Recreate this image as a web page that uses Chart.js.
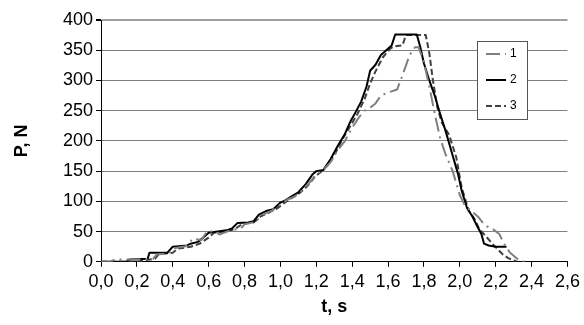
<!DOCTYPE html>
<html>
<head>
<meta charset="utf-8">
<script src="https://cdn.jsdelivr.net/npm/chart.js@4.4.1/dist/chart.umd.min.js"></script>
<style>
  html, body { margin: 0; padding: 0; background: #fff; }
  #wrap { width: 584px; height: 325px; }
</style>
</head>
<body>
<div id="wrap"><canvas id="myChart" width="584" height="325"></canvas></div>
<script>
// series 1 - dash-dot
const t1 = [0, 0.05, 0.08, 0.2, 0.29, 0.31, 0.38, 0.4, 0.48, 0.51, 0.56, 0.59, 0.64, 0.66, 0.72, 0.78, 0.8, 0.86, 0.9, 0.95, 1.0, 1.04, 1.08, 1.12, 1.16, 1.2, 1.24, 1.28, 1.32, 1.36, 1.4, 1.44, 1.47, 1.5, 1.53, 1.56, 1.6, 1.65, 1.67, 1.7, 1.72, 1.75, 1.77, 1.8, 1.83, 1.86, 1.89, 1.92, 1.96, 2.0, 2.03, 2.06, 2.1, 2.14, 2.18, 2.22, 2.25, 2.28, 2.32, 2.36];
const p1 = [0, 0, 4, 4, 5, 12, 14, 22, 26, 38, 36, 50, 50, 45, 52, 55, 62, 66, 78, 84, 95, 103, 108, 118, 130, 145, 152, 165, 185, 200, 222, 240, 250, 255, 262, 275, 280, 285, 300, 325, 342, 355, 355, 330, 290, 245, 205, 178, 150, 110, 92, 85, 75, 60, 55, 46, 28, 15, 5, 0];

// series 2 - solid
const t2 = [0, 0.14, 0.16, 0.26, 0.27, 0.37, 0.4, 0.48, 0.5, 0.54, 0.57, 0.6, 0.65, 0.7, 0.73, 0.76, 0.82, 0.85, 0.88, 0.92, 0.96, 1.0, 1.03, 1.06, 1.1, 1.14, 1.18, 1.2, 1.24, 1.28, 1.32, 1.36, 1.39, 1.42, 1.45, 1.48, 1.5, 1.53, 1.56, 1.59, 1.62, 1.64, 1.76, 1.78, 1.8, 1.83, 1.86, 1.89, 1.92, 1.96, 1.99, 2.01, 2.04, 2.07, 2.1, 2.12, 2.135, 2.16, 2.2, 2.26];
const p2 = [0, 0, 4, 5, 15, 15, 25, 27, 30, 33, 40, 48, 50, 52, 55, 64, 65, 67, 78, 84, 87, 98, 102, 108, 115, 128, 145, 150, 152, 170, 192, 212, 232, 248, 265, 290, 316, 326, 342, 350, 358, 376, 376, 355, 328, 300, 275, 245, 217, 176, 145, 118, 89, 75, 57, 46, 30, 27, 25, 25];

// series 3 - dashed
const t3 = [0, 0.2, 0.25, 0.3, 0.32, 0.4, 0.43, 0.5, 0.55, 0.6, 0.63, 0.7, 0.75, 0.79, 0.85, 0.89, 0.94, 0.98, 1.02, 1.06, 1.1, 1.15, 1.19, 1.23, 1.27, 1.31, 1.35, 1.39, 1.43, 1.47, 1.5, 1.53, 1.57, 1.61, 1.63, 1.68, 1.7, 1.81, 1.83, 1.85, 1.875, 1.9, 1.94, 1.98, 2.01, 2.05, 2.08, 2.11, 2.14, 2.19, 2.24, 2.27, 2.32];
const p3 = [0, 0, 3, 5, 12, 15, 22, 25, 30, 40, 48, 50, 55, 63, 65, 75, 82, 88, 97, 105, 112, 125, 140, 150, 162, 182, 205, 225, 245, 270, 295, 315, 338, 352, 356, 358, 375, 375, 345, 300, 255, 230, 210, 173, 123, 84, 72, 53, 44, 27, 12, 6, 0];

const seriesLabels = ["1", "2", "3"];
const xTitle = "t, s";
const yTitle = "P, N";

const toPoints = (ts, ps) => ts.map((t, i) => ({ x: t, y: ps[i] }));

// legend drawn inside the plot, like the excel original
const legendBox = {
  id: "legendBox",
  afterDraw(chart) {
    const ctx = chart.ctx;
    const left = 477, top = 41, right = 527, bottom = 119;
    ctx.save();
    ctx.fillStyle = "#fff";
    ctx.fillRect(left, top, right - left, bottom - top);
    ctx.strokeStyle = "#555";
    ctx.lineWidth = 1;
    ctx.strokeRect(left + 0.5, top + 0.5, right - left, bottom - top);

    chart.data.datasets.forEach((ds, i) => {
      const y = 54 + i * 26;
      ctx.strokeStyle = ds.borderColor;
      ctx.lineWidth = ds.borderWidth;
      ctx.setLineDash(ds.borderDash || []);
      ctx.beginPath();
      ctx.moveTo(486, y);
      ctx.lineTo(506, y);
      ctx.stroke();
      ctx.setLineDash([]);
      ctx.fillStyle = "#000";
      ctx.font = "12px 'Liberation Sans', Arial, sans-serif";
      ctx.textBaseline = "middle";
      ctx.fillText(ds.label, 510, y);
    });
    ctx.restore();
  },
};

const ctx = document.getElementById("myChart").getContext("2d");

const chart = new Chart(ctx, {
  type: "line",
  data: {
    datasets: [
      {
        label: seriesLabels[0],
        data: toPoints(t1, p1),
        borderColor: "#808080",
        borderWidth: 2,
        borderDash: [14, 5, 2, 5],
      },
      {
        label: seriesLabels[1],
        data: toPoints(t2, p2),
        borderColor: "#000000",
        borderWidth: 2,
      },
      {
        label: seriesLabels[2],
        data: toPoints(t3, p3),
        borderColor: "#404040",
        borderWidth: 2,
        borderDash: [6, 3],
      },
    ],
  },
  options: {
    responsive: false,
    animation: false,
    events: [],
    elements: {
      point: { radius: 0 },
      line: { tension: 0, fill: false, borderJoinStyle: "round" },
    },
    layout: { padding: { left: 11, right: 15, top: 20, bottom: 7 } },
    plugins: {
      legend: { display: false },
      tooltip: { enabled: false },
    },
    scales: {
      x: {
        type: "linear",
        min: 0,
        max: 2.6,
        grid: {
          drawOnChartArea: false,
          drawTicks: true,
          tickLength: 5,
          color: "#000",
        },
        border: { color: "#000", width: 1 },
        ticks: {
          stepSize: 0.2,
          autoSkip: false,
          maxRotation: 0,
          padding: 4,
          color: "#000",
          font: { family: "'Liberation Sans', Arial", size: 18 },
          callback: (v) => v.toFixed(1).replace(".", ","),
        },
        title: {
          display: true,
          text: xTitle,
          color: "#000",
          font: { family: "'Liberation Sans', Arial", size: 18, weight: "bold" },
          padding: { top: 0, bottom: 0 },
        },
      },
      y: {
        min: 0,
        max: 400,
        afterFit: (scale) => {
          scale.width = 90;
        },
        grid: {
          color: (c) => (c.tick && c.tick.value === 400 ? "#a0a0a0" : "#808080"),
          lineWidth: (c) => (c.tick && c.tick.value === 400 ? 2 : 1),
          tickLength: 5,
          tickColor: "#000",
        },
        border: { color: "#000", width: 1 },
        ticks: {
          stepSize: 50,
          padding: 3,
          color: "#000",
          font: { family: "'Liberation Sans', Arial", size: 18 },
        },
        title: {
          display: true,
          text: yTitle,
          color: "#000",
          font: { family: "'Liberation Sans', Arial", size: 18, weight: "bold" },
          padding: { top: 0, bottom: 4 },
        },
      },
    },
  },
  plugins: [legendBox],
});
</script>
</body>
</html>
